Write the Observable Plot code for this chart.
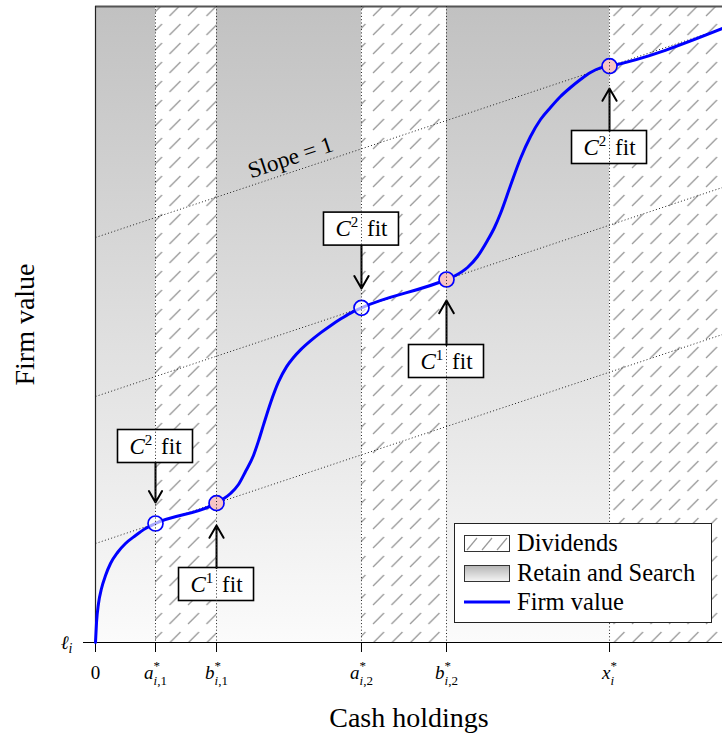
<!DOCTYPE html>
<html><head><meta charset="utf-8">
<script src="https://cdn.jsdelivr.net/npm/d3@7"></script>
<script src="https://cdn.jsdelivr.net/npm/@observablehq/plot@0.6"></script>
<style>
body{margin:0;background:#fff;}
#wrap{position:relative;width:722px;height:738px;font-family:'Liberation Serif','DejaVu Serif',serif;color:#000;}
#legend{position:absolute;left:454px;top:523px;width:256px;height:98px;border:1.3px solid #222;background:#fff;}
#legend .t{position:absolute;left:62px;height:30px;line-height:30px;font-size:24.5px;white-space:nowrap;}
#legend svg{position:absolute;left:9px;}
</style></head><body><div id="wrap"></div>
<script>
// ---- data ----
const xMax = 10.45, yMax = 31.8;
const critX = [1.0, 2.017, 4.433, 5.85, 8.567];
const critY = [5.95, 6.967, 16.733, 18.15, 28.817];
const critKind = ["a", "b", "a", "b", "b"];
const tickValues = [0, 1.0, 2.017, 4.433, 5.85, 8.567];
const tickTokens = ["0", "§a1", "§b1", "§a2", "§b2", "§x"];
const retainStart = [0, 2.017, 5.85];
const retainEnd = [1.0, 4.433, 8.567];
const dividendStart = [1.0, 4.433, 8.567];
const dividendEnd = [2.017, 5.85, 10.45];
const slopeIntercepts = [4.95, 12.3, 20.25];
const curveX = [0, 0.017, 0.05, 0.1, 0.167, 0.25, 0.367, 0.5, 0.667, 0.833, 1.0, 2.017,
  2.117, 2.25, 2.383, 2.5, 2.633, 2.717, 2.8, 2.917, 3.05, 3.183, 3.3, 3.417, 3.583, 3.75, 3.917, 4.083, 4.25, 4.433, 5.85,
  6.0, 6.2, 6.367, 6.533, 6.65, 6.75, 6.917, 7.083, 7.25, 7.417, 7.583, 7.75, 7.917, 8.083, 8.25, 8.417, 8.567, 10.45];
const curveY = [0, 1.0, 1.95, 2.7, 3.35, 3.95, 4.5, 4.95, 5.35, 5.7, 5.95, 6.967,
  7.15, 7.45, 7.9, 8.55, 9.35, 10.08, 10.88, 11.98, 13.03, 13.78, 14.25, 14.63, 15.08, 15.48, 15.84, 16.17, 16.47, 16.733, 18.15,
  18.35, 18.75, 19.3, 20.1, 20.75, 21.45, 22.85, 24.2, 25.3, 26.15, 26.75, 27.3, 27.75, 28.15, 28.5, 28.73, 28.817, 30.7];
const annX = [1.0, 2.017, 4.433, 5.85, 8.567];
const annLabel = ["§C2", "§C1", "§C2", "§C1", "§C2"];
const annBoxY = [9.8, 2.9, 20.67, 14.05, 24.75];
const annTipY = [7.0, 5.85, 17.7, 17.1, 27.7];
const slopeLabel = ["Slope = 1"];
const slopeLabelX = [3.25];
const slopeLabelY = [24.25];
const xTitle = "Cash holdings";
const yTitle = "Firm value";

// ---- derived tables ----
const retain = retainStart.map((s, i) => ({x1: s, x2: retainEnd[i]}));
const dividend = dividendStart.map((s, i) => ({x1: s, x2: dividendEnd[i]}));
const curve = curveX.map((x, i) => ({x, y: curveY[i]}));
const crit = critX.map((x, i) => ({x, y: critY[i], kind: critKind[i]}));
const bw = 37.5 / 60, bh = 16.5 / 20; // box half size in data units
const ann = annX.map((x, i) => ({x, box: annBoxY[i], tip: annTipY[i], label: annLabel[i],
  start: annTipY[i] > annBoxY[i] ? annBoxY[i] + bh : annBoxY[i] - bh}));
const dotted = "1,2.3";

const plot = Plot.plot({
  width: 722, height: 738,
  marginLeft: 95, marginRight: 0, marginTop: 6, marginBottom: 96,
  style: {fontFamily: "'Liberation Serif', 'DejaVu Serif', serif", fontSize: "19px", color: "#000", background: "transparent", overflow: "visible"},
  x: {domain: [0, xMax], ticks: tickValues, tickFormat: d => tickTokens[tickValues.indexOf(d)], tickSize: 10, tickPadding: 13, label: null},
  y: {domain: [0, yMax], ticks: [0], tickFormat: () => "§L", tickSize: 12, tickPadding: 11, label: null},
  marks: [
    Plot.rect(retain, {x1: "x1", x2: "x2", y1: () => 0, y2: () => yMax, fill: "url(#retainGrad)"}),
    Plot.rect(dividend, {x1: "x1", x2: "x2", y1: () => 0, y2: () => yMax, fill: "url(#hatch)"}),
    Plot.link(slopeIntercepts, {x1: () => 0, x2: () => xMax, y1: b => b, y2: b => b + xMax, stroke: "#222", strokeWidth: 1, strokeDasharray: dotted}),
    Plot.ruleY([yMax], {stroke: "#555", strokeWidth: 2}),
    Plot.ruleY([0], {stroke: "#000", strokeWidth: 1.2}),
    Plot.ruleX([0], {stroke: "#222", strokeWidth: 1.2}),
    Plot.line(curve, {x: "x", y: "y", stroke: "#0000ff", strokeWidth: 3, curve: "monotone-x"}),
    Plot.dot(crit.filter(d => d.kind === "a"), {x: "x", y: "y", r: 7.5, stroke: "#0000ff", strokeWidth: 1.7, fill: "#fff", fillOpacity: 0.65}),
    Plot.dot(crit.filter(d => d.kind === "b"), {x: "x", y: "y", r: 7.5, stroke: "#0000ff", strokeWidth: 1.7, fill: "#f8c4c4"}),
    Plot.rect(ann, {x1: d => d.x - bw, x2: d => d.x + bw, y1: d => d.box - bh, y2: d => d.box + bh, fill: "#fff", stroke: "#000", strokeWidth: 1.6}),
    Plot.arrow(ann, {x1: "x", x2: "x", y1: "start", y2: "tip", stroke: "#000", strokeWidth: 2, headLength: 11}),
    Plot.text(ann, {x: "x", y: "box", text: "label", fontSize: 23, fill: "#000"}),
    Plot.ruleX(critX, {stroke: "#222", strokeWidth: 1, strokeDasharray: dotted}),
    Plot.text(slopeLabel, {x: () => slopeLabelX[0], y: () => slopeLabelY[0], text: d => d, rotate: -18.43, fontSize: 23, fill: "#000"}),
    Plot.text([xTitle], {frameAnchor: "bottom", textAnchor: "middle", lineAnchor: "middle", dy: 76, text: d => d, fontSize: 28, fill: "#000"}),
    Plot.text([yTitle], {frameAnchor: "left", textAnchor: "middle", lineAnchor: "middle", dx: -70, rotate: -90, text: d => d, fontSize: 28, fill: "#000"})
  ]
});

const wrap = document.getElementById("wrap");
wrap.appendChild(plot);

// ---- defs: gradient + hatch ----
const NS = "http://www.w3.org/2000/svg";
const defs = document.createElementNS(NS, "defs");
defs.innerHTML = `
<linearGradient id="retainGrad" x1="0" y1="0" x2="0" y2="1">
  <stop offset="0" stop-color="#c1c1c1"/><stop offset="1" stop-color="#fbfbfb"/>
</linearGradient>
<pattern id="hatch" patternUnits="userSpaceOnUse" width="18.5" height="19">
  <line x1="3" y1="16" x2="14" y2="5" stroke="#9a9a9a" stroke-width="1.3"/>
</pattern>`;
plot.insertBefore(defs, plot.firstChild);

// ---- rich text for math labels ----
function rich(el, parts) {
  while (el.firstChild) el.removeChild(el.firstChild);
  for (const p of parts) {
    const ts = document.createElementNS(NS, "tspan");
    ts.textContent = p.t;
    if (p.it) ts.setAttribute("font-style", "italic");
    if (p.size) ts.setAttribute("font-size", p.size);
    if (p.shift) ts.setAttribute("baseline-shift", p.shift);
    if (p.dx) ts.setAttribute("dx", p.dx);
    el.appendChild(ts);
  }
}
const sub = (letter, idxText) => [
  {t: letter, it: true},
  {t: "*", size: 13, shift: 9},
  {t: "i", it: true, size: 13, shift: -6, dx: -6.5},
  {t: idxText, size: 13, shift: -6}
];
const rep = {
  "§a1": sub("a", ",1"), "§b1": sub("b", ",1"), "§a2": sub("a", ",2"), "§b2": sub("b", ",2"),
  "§x": [{t: "x", it: true}, {t: "*", size: 13, shift: 9}, {t: "i", it: true, size: 13, shift: -6, dx: -6.5}],
  "§L": [{t: "ℓ", it: true}, {t: "i", it: true, size: 14, shift: -4}],
  "§C2": [{t: "C", it: true}, {t: "2", size: 15, shift: 9}, {t: " fit", dx: 3}],
  "§C1": [{t: "C", it: true}, {t: "1", size: 15, shift: 9}, {t: " fit", dx: 3}]
};
plot.querySelectorAll("text").forEach(el => {
  const k = el.textContent;
  if (rep[k]) rich(el, rep[k]);
});

// ---- legend (HTML overlay) ----
const legend = document.createElement("div");
legend.id = "legend";
legend.innerHTML = `
<svg style="top:11px" width="46" height="17"><defs><pattern id="hl" patternUnits="userSpaceOnUse" width="15" height="17"><line x1="3" y1="15" x2="13" y2="3" stroke="#999" stroke-width="1.2"/></pattern></defs><rect x="0.5" y="0.5" width="45" height="16" fill="url(#hl)" stroke="#333" stroke-width="1"/></svg>
<div class="t" style="top:4px">Dividends</div>
<svg style="top:41px" width="46" height="17"><defs><linearGradient id="lg" x1="0" y1="0" x2="0" y2="1"><stop offset="0" stop-color="#b5b5b5"/><stop offset="1" stop-color="#f5f5f5"/></linearGradient></defs><rect x="0.5" y="0.5" width="45" height="16" fill="url(#lg)" stroke="#333" stroke-width="1"/></svg>
<div class="t" style="top:34px">Retain and Search</div>
<svg style="top:71px" width="46" height="14"><line x1="0" x2="46" y1="7" y2="7" stroke="#0000ff" stroke-width="3"/></svg>
<div class="t" style="top:63px">Firm value</div>`;
wrap.appendChild(legend);
</script>
</body></html>
